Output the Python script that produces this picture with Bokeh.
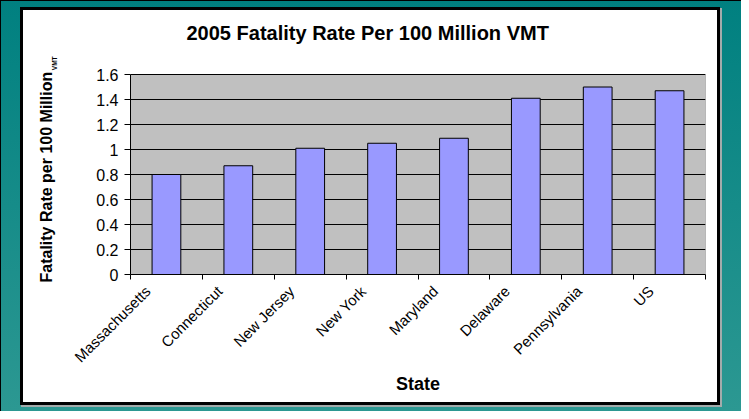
import math
from bokeh.plotting import figure
from bokeh.models import (Range1d, FixedTicker, LinearAxis, Title, BoxAnnotation,
                          ColumnDataSource)
from bokeh.embed import file_html
from bokeh.resources import INLINE

# ---- data ----
states = ["Massachusetts", "Connecticut", "New Jersey", "New York",
          "Maryland", "Delaware", "Pennsylvania", "US"]
rates = [0.80, 0.87, 1.01, 1.05, 1.09, 1.41, 1.50, 1.47]
y_ticks = [0, 0.2, 0.4, 0.6, 0.8, 1.0, 1.2, 1.4, 1.6]
y_tick_labels = ["0", "0.2", "0.4", "0.6", "0.8", "1", "1.2", "1.4", "1.6"]
y_max = 1.6
title_text = "2005 Fatality Rate Per 100 Million VMT"
x_title = "State"
y_title = "Fatality Rate per 100 Million"
y_title_sub = "VMT"

FONT = "Liberation Sans"
W, H = 741, 411
FL, FR, FT, FB = 130, 36, 59, 137   # borders around the plot frame
Y_VIEW_TOP = 1.72                    # frame extends a bit above the axis (room for the subscript)
SUB_POS = 1.69                       # height of the subscript "VMT" (layout only)

# slide-like background: teal gradient, white panel with black border (CSS on the figure)
bg_layers = [
    "linear-gradient(#000,#000) 0px 0px / 100% 1px no-repeat",
    "linear-gradient(#000,#000) 0px 0px / 1px 100% no-repeat",
    "linear-gradient(#fff,#fff) 23px 10px / 694px 392px no-repeat",
    "linear-gradient(#000,#000) 20px 7px / 700px 398px no-repeat",
    "linear-gradient(#a3abab,#a3abab) 21px 8px / 701px 399px no-repeat",
    "linear-gradient(to bottom, #008080, #2c9892)",
]

p = figure(width=W, height=H, output_backend="svg", toolbar_location=None,
           x_range=Range1d(0, len(states)), y_range=Range1d(0, Y_VIEW_TOP),
           min_border_left=FL, min_border_right=FR,
           min_border_top=FT, min_border_bottom=FB,
           background_fill_color=None, border_fill_color=None,
           outline_line_color=None,
           styles={"background": ", ".join(bg_layers)})

# grey plot area with its grey outline
p.add_layout(BoxAnnotation(left=0, right=len(states), bottom=0, top=y_max,
                           fill_color="#C0C0C0", fill_alpha=1,
                           line_color="#808080", line_width=1, line_alpha=1, level="image"))

# ---- bars ----
src = ColumnDataSource(dict(x=[i + 0.5 for i in range(len(states))], top=rates, state=states))
p.vbar(x="x", top="top", width=0.4, bottom=0, source=src,
       fill_color="#9999FF", line_color="black", line_width=1)

# ---- grid ----
p.xgrid.visible = False
p.ygrid.ticker = FixedTicker(ticks=y_ticks)
p.ygrid.grid_line_color = "black"
p.ygrid.grid_line_width = 1

# ---- x axis ----
label_shift = 0.26   # Excel-like placement of the slanted category labels
xax = p.xaxis[0]
xax.ticker = FixedTicker(ticks=[i + 0.5 - label_shift for i in range(len(states))],
                         minor_ticks=list(range(len(states) + 1)))
xax.major_label_overrides = {i + 0.5 - label_shift: s for i, s in enumerate(states)}
xax.major_tick_line_color = None
xax.major_tick_out = 5
xax.major_tick_in = 0
xax.minor_tick_line_color = "black"
xax.minor_tick_out = 5
xax.minor_tick_in = 0
xax.major_label_orientation = math.pi / 4
xax.major_label_text_font = FONT
xax.major_label_text_font_size = "15px"
xax.major_label_text_color = "black"
xax.major_label_standoff = 9
xax.axis_line_color = "black"
xax.axis_label = x_title
xax.axis_label_text_font = FONT
xax.axis_label_text_font_style = "bold"
xax.axis_label_text_font_size = "18px"
xax.axis_label_text_color = "black"
xax.axis_label_standoff = 0

# ---- y axis (ticks and numbers) ----
yax = p.yaxis[0]
yax.bounds = (0, y_max)
yax.ticker = FixedTicker(ticks=y_ticks, minor_ticks=[])
yax.major_label_overrides = dict(zip(y_ticks, y_tick_labels))
yax.major_tick_out = 6
yax.major_tick_in = 0
yax.major_tick_line_color = "black"
yax.minor_tick_line_color = None
yax.major_label_text_font = FONT
yax.major_label_text_font_size = "16px"
yax.major_label_text_color = "black"
yax.major_label_standoff = 6
yax.axis_line_color = "black"
yax.axis_label = None

# ---- subscript "VMT" of the y title (one label on a bare guide) ----
sub_ax = LinearAxis(ticker=FixedTicker(ticks=[SUB_POS], minor_ticks=[]),
                    major_label_overrides={SUB_POS: y_title_sub},
                    major_label_orientation="parallel",
                    major_label_text_font=FONT, major_label_text_font_style="bold",
                    major_label_text_font_size="6.5px", major_label_text_color="black",
                    major_label_standoff=36,
                    major_tick_in=0, major_tick_out=0, major_tick_line_color=None,
                    minor_tick_in=0, minor_tick_out=0, minor_tick_line_color=None,
                    axis_line_color=None, axis_label=None)
p.add_layout(sub_ax, "left")

# ---- y title ----
p.add_layout(Title(text=y_title, align="left", vertical_align="middle", offset=-8,
                   text_font=FONT, text_font_style="bold", text_font_size="16px",
                   text_color="black", standoff=-16), "left")

# ---- chart title ----
p.title.text = title_text
p.title.align = "left"
p.title.vertical_align = "middle"
p.title.text_font = FONT
p.title.text_font_style = "bold"
p.title.text_font_size = "20px"
p.title.text_color = "black"
p.title.offset = 56
p.title.standoff = 29

open("out.html", "w").write(file_html(p, INLINE))
